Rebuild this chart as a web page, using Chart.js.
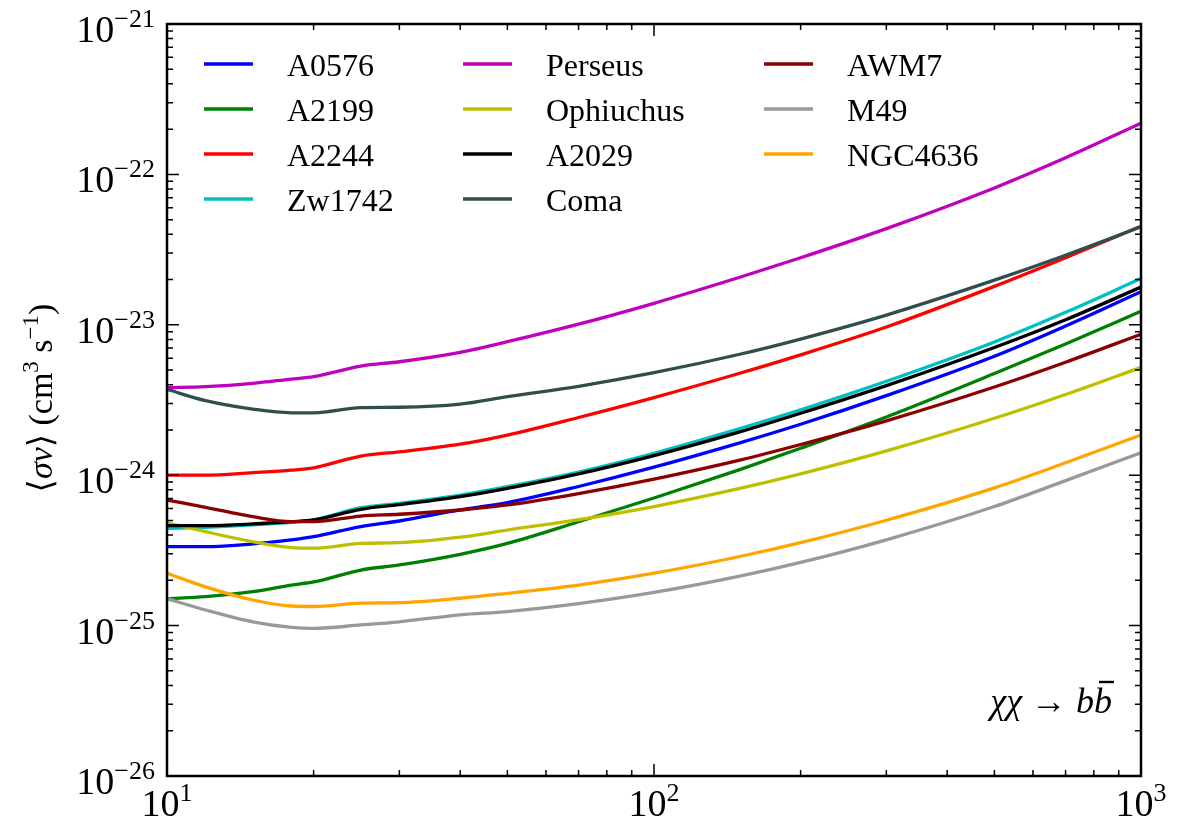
<!DOCTYPE html>
<html>
<head>
<meta charset="utf-8">
<script src="https://cdn.jsdelivr.net/npm/chart.js@4.4.1/dist/chart.umd.min.js"></script>
<style>
    html, body { margin: 0; padding: 0; background: #fff; }
    canvas { display: block; }
</style>
</head>
<body>
<canvas id="grafico_sigmav" width="1184" height="823"></canvas>
<script>
// massas da partícula (GeV)
const massas = [10, 12, 15, 18, 20, 25, 30, 40, 50, 70, 100, 150, 200, 300, 500, 700, 1000]

// limites de <σv> por aglomerado (cm^3 s^-1)
const a0576 = [3.35e-25, 3.35e-25, 3.49e-25, 3.71e-25, 3.90e-25, 4.55e-25, 4.96e-25, 5.87e-25, 6.57e-25, 8.41e-25, 1.13e-24, 1.64e-24, 2.18e-24, 3.38e-24, 6.18e-24, 9.82e-24, 1.66e-23]
const a2199 = [1.51e-25, 1.56e-25, 1.68e-25, 1.86e-25, 1.95e-25, 2.34e-25, 2.53e-25, 2.98e-25, 3.52e-25, 4.90e-25, 7.05e-25, 1.09e-24, 1.51e-24, 2.44e-24, 4.74e-24, 7.46e-24, 1.23e-23]
const a2244 = [1.00e-24, 1.00e-24, 1.04e-24, 1.08e-24, 1.12e-24, 1.34e-24, 1.43e-24, 1.61e-24, 1.85e-24, 2.42e-24, 3.28e-24, 4.76e-24, 6.31e-24, 9.66e-24, 1.80e-23, 2.79e-23, 4.52e-23]
const zw1742 = [4.44e-25, 4.50e-25, 4.67e-25, 4.86e-25, 5.04e-25, 6.08e-25, 6.50e-25, 7.38e-25, 8.39e-25, 1.05e-24, 1.40e-24, 2.04e-24, 2.72e-24, 4.21e-24, 7.69e-24, 1.21e-23, 2.03e-23]
const perseus = [3.82e-24, 3.88e-24, 4.08e-24, 4.36e-24, 4.52e-24, 5.32e-24, 5.68e-24, 6.56e-24, 7.72e-24, 1.01e-23, 1.39e-23, 2.07e-23, 2.79e-23, 4.36e-23, 8.13e-23, 1.29e-22, 2.19e-22]
const ophiuchus = [4.83e-25, 4.21e-25, 3.61e-25, 3.30e-25, 3.27e-25, 3.52e-25, 3.56e-25, 3.87e-25, 4.32e-25, 5.06e-25, 6.19e-25, 8.17e-25, 1.02e-24, 1.45e-24, 2.39e-24, 3.44e-24, 5.21e-24]
const a2029 = [4.62e-25, 4.62e-25, 4.74e-25, 4.91e-25, 5.04e-25, 5.93e-25, 6.37e-25, 7.20e-25, 8.18e-25, 1.02e-24, 1.35e-24, 1.94e-24, 2.58e-24, 3.94e-24, 7.06e-24, 1.08e-23, 1.78e-23]
const coma = [3.72e-24, 3.13e-24, 2.75e-24, 2.60e-24, 2.60e-24, 2.81e-24, 2.83e-24, 2.97e-24, 3.33e-24, 3.90e-24, 4.80e-24, 6.37e-24, 8.04e-24, 1.16e-23, 1.98e-23, 2.90e-23, 4.48e-23]
const awm7 = [6.84e-25, 6.12e-25, 5.30e-25, 4.91e-25, 4.91e-25, 5.35e-25, 5.50e-25, 5.87e-25, 6.34e-25, 7.55e-25, 9.42e-25, 1.26e-24, 1.60e-24, 2.30e-24, 3.86e-24, 5.64e-24, 8.65e-24]
const m49 = [1.51e-25, 1.27e-25, 1.06e-25, 9.74e-26, 9.59e-26, 1.01e-25, 1.06e-25, 1.18e-25, 1.24e-25, 1.40e-25, 1.66e-25, 2.13e-25, 2.63e-25, 3.72e-25, 6.19e-25, 9.20e-25, 1.41e-24]
const ngc4636 = [2.23e-25, 1.81e-25, 1.48e-25, 1.35e-25, 1.34e-25, 1.41e-25, 1.42e-25, 1.52e-25, 1.64e-25, 1.86e-25, 2.23e-25, 2.88e-25, 3.56e-25, 5.02e-25, 8.24e-25, 1.21e-24, 1.85e-24]

const nomes = ['A0576', 'A2199', 'A2244', 'Zw1742', 'Perseus', 'Ophiuchus', 'A2029', 'Coma', 'AWM7', 'M49', 'NGC4636']
const series = [a0576, a2199, a2244, zw1742, perseus, ophiuchus, a2029, coma, awm7, m49, ngc4636]
const cores = ['#0000ff', '#008000', '#ff0000', '#00bfbf', '#bf00bf', '#bfbf00', '#000000', '#2f4f4f', '#8b0000', '#999999', '#ffa500']

// rótulos dos eixos (potências de dez)
const ticksX = [10, 100, 1000]
const ticksY = [1e-26, 1e-25, 1e-24, 1e-23, 1e-22, 1e-21]

const fonteSerif = '"Liberation Serif", "DejaVu Serif", serif'

// valores de 1..9 x 10^n dentro do intervalo do eixo
function valoresTick(min, max) {
    const lista = []
    for (let e = Math.floor(Math.log10(min)); e <= Math.ceil(Math.log10(max)); e++) {
        for (let k = 1; k <= 9; k++) {
            const v = k * Math.pow(10, e)
            if (v >= min * 0.999999 && v <= max * 1.000001) lista.push({ valor: v, maior: k === 1 })
        }
    }
    return lista
}

// escreve 10^n com o expoente em sobrescrito
function potenciaDez(ctx, valor, x, yBase, alinhamento) {
    const expoente = Math.round(Math.log10(valor))
    const textoExp = expoente < 0 ? '\u2212' + Math.abs(expoente) : String(expoente)
    ctx.font = `38px ${fonteSerif}`
    const largBase = ctx.measureText('10').width
    ctx.font = `26px ${fonteSerif}`
    const largExp = ctx.measureText(textoExp).width
    const total = largBase + largExp
    const x0 = alinhamento === 'right' ? x - total : x - total / 2
    ctx.textAlign = 'left'
    ctx.textBaseline = 'alphabetic'
    ctx.font = `38px ${fonteSerif}`
    ctx.fillText('10', x0, yBase)
    ctx.font = `26px ${fonteSerif}`
    ctx.fillText(textoExp, x0 + largBase, yBase - 15)
}

// desenha uma sequência de pedaços de texto, cada um com sua fonte
function textoComposto(ctx, partes, x, y) {
    let cx = x
    for (const p of partes) {
        ctx.font = p.fonte
        ctx.fillText(p.t, cx, y + (p.dy || 0))
        const larg = ctx.measureText(p.t).width
        if (p.barra) {
            ctx.save()
            ctx.lineWidth = 2.4
            ctx.beginPath()
            ctx.moveTo(cx + 5, y - 31)
            ctx.lineTo(cx + larg + 2, y - 31)
            ctx.stroke()
            ctx.restore()
        }
        cx += larg
    }
}

function largura(ctx, partes) {
    let w = 0
    for (const p of partes) {
        ctx.font = p.fonte
        w += ctx.measureText(p.t).width
    }
    return w
}

const desenhoEixos = {
    id: 'desenhoEixos',
    afterDraw(chart) {
        const ctx = chart.ctx
        const area = chart.chartArea
        const escalaX = chart.scales.x
        const escalaY = chart.scales.y
        ctx.save()
        ctx.strokeStyle = '#000'
        ctx.fillStyle = '#000'

        // ticks para dentro nos quatro lados
        ctx.lineWidth = 1.5
        ctx.beginPath()
        for (const t of valoresTick(escalaX.min, escalaX.max)) {
            const px = escalaX.getPixelForValue(t.valor)
            const comp = t.maior ? 12 : 6
            ctx.moveTo(px, area.bottom)
            ctx.lineTo(px, area.bottom - comp)
            ctx.moveTo(px, area.top)
            ctx.lineTo(px, area.top + comp)
        }
        for (const t of valoresTick(escalaY.min, escalaY.max)) {
            const py = escalaY.getPixelForValue(t.valor)
            const comp = t.maior ? 12 : 6
            ctx.moveTo(area.left, py)
            ctx.lineTo(area.left + comp, py)
            ctx.moveTo(area.right, py)
            ctx.lineTo(area.right - comp, py)
        }
        ctx.stroke()

        // moldura
        ctx.lineWidth = 2.5
        ctx.strokeRect(area.left, area.top, area.right - area.left, area.bottom - area.top)

        // rótulos dos ticks
        for (const v of ticksX) {
            potenciaDez(ctx, v, escalaX.getPixelForValue(v), area.bottom + 40, 'center')
        }
        for (const v of ticksY) {
            potenciaDez(ctx, v, 155, escalaY.getPixelForValue(v) + 18, 'right')
        }

        // título do eixo y
        const normal = `34px ${fonteSerif}`
        const italico = `italic 34px ${fonteSerif}`
        const sobrescrito = `23px ${fonteSerif}`
        const tituloY = [
            { t: '\u27e8', fonte: normal },
            { t: '\u03c3v', fonte: italico },
            { t: '\u27e9 (cm', fonte: normal },
            { t: '3', fonte: sobrescrito, dy: -14 },
            { t: ' s', fonte: normal },
            { t: '\u22121', fonte: sobrescrito, dy: -14 },
            { t: ')', fonte: normal }
        ]
        ctx.save()
        ctx.translate(52, 398)
        ctx.rotate(-Math.PI / 2)
        ctx.textAlign = 'left'
        ctx.textBaseline = 'alphabetic'
        textoComposto(ctx, tituloY, -largura(ctx, tituloY) / 2, 0)
        ctx.restore()

        // canal de aniquilação
        const italicoG = `italic 36px ${fonteSerif}`
        const canal = [
            { t: '\u03c7\u03c7', fonte: italicoG },
            { t: ' \u2192 ', fonte: `36px ${fonteSerif}` },
            { t: 'b', fonte: italicoG },
            { t: 'b', fonte: italicoG, barra: true }
        ]
        ctx.textAlign = 'left'
        textoComposto(ctx, canal, 1112 - largura(ctx, canal), 713)

        // legenda em três colunas
        const colunas = [204, 463, 764]
        chart.data.datasets.forEach((ds, i) => {
            const x = colunas[Math.floor(i / 4)]
            const y = 64 + 45 * (i % 4)
            ctx.strokeStyle = ds.borderColor
            ctx.lineWidth = 3.3
            ctx.beginPath()
            ctx.moveTo(x, y)
            ctx.lineTo(x + 49, y)
            ctx.stroke()
            ctx.font = `32px ${fonteSerif}`
            ctx.fillStyle = '#000'
            ctx.fillText(ds.label, x + 83, y + 12)
        })
        ctx.restore()
    }
}

const datasets = series.map((valores, i) => ({
    label: nomes[i],
    data: massas.map((m, j) => ({ x: m, y: valores[j] })),
    borderColor: cores[i],
    borderWidth: 3.3,
    pointRadius: 0,
    cubicInterpolationMode: 'monotone',
    fill: false,
    order: series.length - i
}))

new Chart(document.getElementById('grafico_sigmav'), {
    type: 'line',
    data: { datasets: datasets },
    options: {
        responsive: false,
        animation: false,
        layout: { padding: { left: 0, right: 43, top: 24, bottom: 0 } },
        scales: {
            x: {
                type: 'logarithmic',
                min: 10,
                max: 1000,
                grid: { display: false },
                border: { display: false },
                ticks: { display: false },
                afterFit: function (escala) { escala.height = 47 }
            },
            y: {
                type: 'logarithmic',
                min: 1e-26,
                max: 1e-21,
                grid: { display: false },
                border: { display: false },
                ticks: { display: false },
                afterFit: function (escala) { escala.width = 167 }
            }
        },
        plugins: {
            legend: { display: false },
            tooltip: { enabled: false }
        }
    },
    plugins: [desenhoEixos]
})
</script>
</body>
</html>
